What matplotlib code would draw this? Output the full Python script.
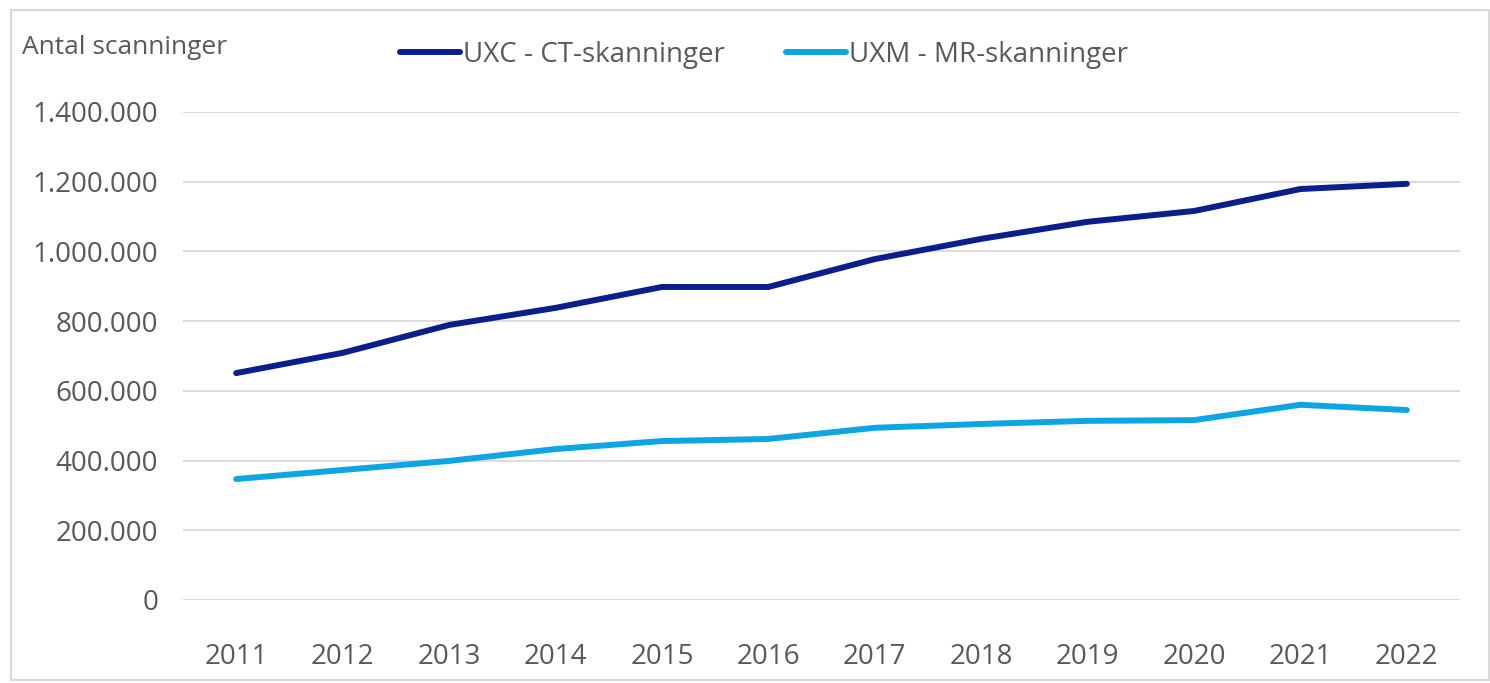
import matplotlib.pyplot as plt
from matplotlib.patches import Rectangle
from matplotlib.ticker import FuncFormatter

years = ['2011', '2012', '2013', '2014', '2015', '2016',
         '2017', '2018', '2019', '2020', '2021', '2022']
ct_scans = [651000, 709000, 789000, 838000, 898000, 898000,
            978000, 1036000, 1085000, 1116000, 1179000, 1194000]
mr_scans = [347000, 373000, 399000, 433000, 456000, 462000,
            494000, 505000, 514000, 516000, 560000, 545000]

plt.rcParams['font.family'] = ['Open Sans', 'DejaVu Sans']
text_color = '#595959'

fig = plt.figure(figsize=(14.9, 6.83), dpi=100)
ax = fig.add_axes([183 / 1490, 1 - 600 / 683, (1460 - 183) / 1490, (600 - 112) / 683])

x = list(range(len(years)))
ax.plot(x, ct_scans, color='#0c1d8c', linewidth=4.3, solid_capstyle='round',
        label='UXC - CT-skanninger', zorder=3)
ax.plot(x, mr_scans, color='#0ea5e4', linewidth=4.3, solid_capstyle='round',
        label='UXM - MR-skanninger', zorder=3)

ax.set_xlim(-0.5, len(years) - 0.5)
ax.set_ylim(0, 1400000)
ax.set_yticks(range(0, 1400001, 200000))
ax.yaxis.set_major_formatter(FuncFormatter(lambda v, p: f'{int(v):,}'.replace(',', '.')))
ax.set_xticks(x)
ax.set_xticklabels(years)

ax.grid(axis='y', color='#d9d9d9', linewidth=1.3)
ax.set_axisbelow(True)
for s in ax.spines.values():
    s.set_visible(False)
ax.tick_params(length=0, labelsize=20, colors=text_color)
ax.tick_params(axis='y', pad=18)
ax.tick_params(axis='x', pad=31)

fig.text(22 / 1490, 1 - 48 / 683, 'Antal scanninger', fontsize=19, color=text_color,
         va='center', ha='left')

leg = fig.legend(loc='center', bbox_to_anchor=(764 / 1490, 1 - 55 / 683), ncol=2,
                 frameon=False, fontsize=20, handlelength=2.15, handletextpad=0.12,
                 columnspacing=2.2)
for t in leg.get_texts():
    t.set_color(text_color)

fig.patches.append(Rectangle((11 / 1490, 3 / 683), 1 - 12 / 1490, 1 - 13 / 683,
                             transform=fig.transFigure, fill=False,
                             edgecolor='#d9d9d9', linewidth=1.5))

fig.savefig('out.png', dpi=100)
